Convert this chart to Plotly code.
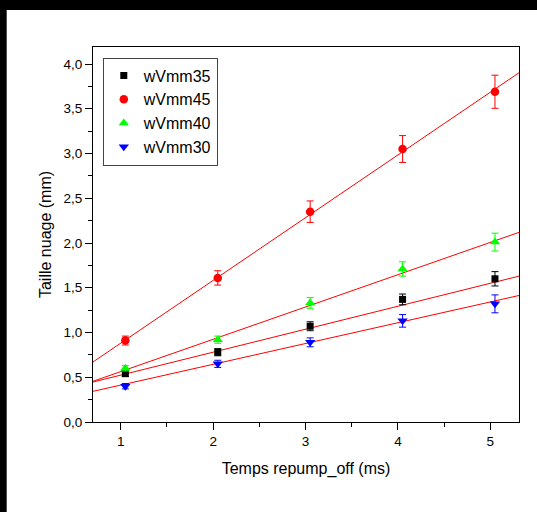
import plotly.graph_objects as go

x = [1.05, 2.05, 3.05, 4.05, 5.05]

names = ["wVmm35", "wVmm45", "wVmm40", "wVmm30"]
colors = ["#000000", "#ff0000", "#00ff00", "#0000ff"]
symbols = ["square", "circle", "triangle-up", "triangle-down"]
sizes = [7, 8.5, 9, 9]

y35 = [0.54, 0.78, 1.07, 1.37, 1.60]
y45 = [0.91, 1.61, 2.35, 3.05, 3.69]
y40 = [0.60, 0.92, 1.33, 1.71, 2.01]
y30 = [0.40, 0.65, 0.89, 1.13, 1.32]

e35 = [0.03, 0.04, 0.05, 0.06, 0.08]
e45 = [0.05, 0.08, 0.12, 0.15, 0.185]
e40 = [0.03, 0.04, 0.06, 0.08, 0.10]
e30 = [0.03, 0.04, 0.05, 0.07, 0.10]

# linear fits (intercept, slope)
fit_intercept = [0.267, 0.180, 0.202, 0.180]
fit_slope = [0.2566, 0.701, 0.361, 0.2323]
fit_x = [0.70, 5.31]

ys = [y35, y45, y40, y30]
es = [e35, e45, e40, e30]

font = "Arial, Liberation Sans, sans-serif"
fig = go.Figure()

for i in range(4):
    fig.add_trace(go.Scatter(
        x=fit_x, y=[fit_intercept[i] + fit_slope[i] * v for v in fit_x],
        mode="lines", line=dict(color="#ff0000", width=1), showlegend=False,
        hoverinfo="skip", cliponaxis=True))

for i in range(4):
    fig.add_trace(go.Scatter(
        x=x, y=ys[i], mode="markers", name=names[i],
        marker=dict(color=colors[i], symbol=symbols[i], size=sizes[i], line=dict(width=0)),
        error_y=dict(type="data", array=es[i], color=colors[i], thickness=1, width=3.5)))

fig.update_layout(
    width=537, height=512,
    margin=dict(l=93, r=18, t=47, b=90),
    paper_bgcolor="white", plot_bgcolor="white",
    separators=",.",
    font=dict(family=font, size=14, color="black"),
    showlegend=True,
    legend=dict(x=0.023, y=0.972, xanchor="left", yanchor="top",
                bordercolor="#444444", borderwidth=1, bgcolor="white",
                font=dict(size=16, family=font), itemwidth=30,
                tracegroupgap=0),
    shapes=[
        dict(type="rect", xref="paper", yref="paper", x0=-0.25, x1=-0.2026, y0=-0.3, y1=1.2,
             fillcolor="black", line=dict(width=0), layer="above"),
        dict(type="rect", xref="paper", yref="paper", x0=-0.25, x1=1.2, y0=1.0985, y1=1.2,
             fillcolor="black", line=dict(width=0), layer="above"),
    ],
)

fig.update_xaxes(
    range=[0.70, 5.31], tickmode="linear", tick0=1, dtick=1, tickformat="d",
    ticks="outside", ticklen=7, tickwidth=1, tickcolor="black",
    minor=dict(ticks="outside", ticklen=4, dtick=0.5, tick0=0.5, tickcolor="black", showgrid=False),
    showline=True, linecolor="black", linewidth=1, mirror=True,
    showgrid=False, zeroline=False,
    tickfont=dict(size=13.5, family=font),
    title=dict(text="Temps repump_off (ms)", font=dict(size=16, family=font), standoff=14),
)
fig.update_yaxes(
    range=[0, 4.19], tickmode="linear", tick0=0, dtick=0.5, tickformat=".1f",
    ticks="outside", ticklen=7, tickwidth=1, tickcolor="black",
    minor=dict(ticks="outside", ticklen=4, dtick=0.25, tick0=0, tickcolor="black", showgrid=False),
    showline=True, linecolor="black", linewidth=1, mirror=True,
    showgrid=False, zeroline=False,
    tickfont=dict(size=13.5, family=font),
    title=dict(text="Taille nuage (mm)", font=dict(size=16, family=font), standoff=7),
)

fig.write_html("out.html", config={"displayModeBar": False},
               post_script="document.body.style.margin='0';document.body.style.overflow='hidden';")
